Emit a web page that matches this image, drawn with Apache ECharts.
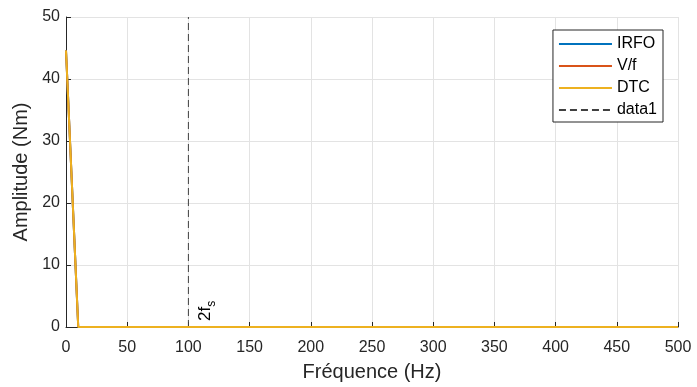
<!DOCTYPE html>
<html>
<head>
<meta charset="utf-8">
<script src="https://cdn.jsdelivr.net/npm/echarts@6/dist/echarts.min.js"></script>
<style>
  html, body { margin: 0; padding: 0; background: #fff; }
  #chart { width: 697px; height: 387px; }
</style>
</head>
<body>
<div id="chart"></div>
<script>
// Torque spectrum: amplitude vs frequency for three control strategies
const freqHz = [0, 10, 20, 50, 100, 150, 200, 250, 300, 350, 400, 450, 500];
const irfo   = [44.6, 0, 0, 0, 0, 0, 0, 0, 0, 0, 0, 0, 0];
const vf     = [44.6, 0, 0, 0, 0, 0, 0, 0, 0, 0, 0, 0, 0];
const dtc    = [44.6, 0, 0, 0, 0, 0, 0, 0, 0, 0, 0, 0, 0];
// vertical marker at twice the supply frequency
const markerFreq = 100;
const markerSpan = [0, 50];
const markerText = '2f';
const markerSub = 's';

const pairs = (xs, ys) => xs.map((x, i) => [x, ys[i]]);
const font = '"Liberation Sans", Arial, Helvetica, sans-serif';
const ink = '#262626';

const chart = echarts.init(document.getElementById('chart'), null, { renderer: 'canvas' });

const lineSeries = (name, data, color, z) => ({
  name, type: 'line', data, showSymbol: false, symbol: 'none',
  lineStyle: { color, width: 2 }, itemStyle: { color }, z, animation: false
});

chart.setOption({
  animation: false,
  textStyle: { fontFamily: font },
  grid: { left: 66, right: 19, top: 17, bottom: 59, containLabel: false },
  xAxis: {
    type: 'value', min: 0, max: 500, interval: 50,
    name: 'Fréquence (Hz)', nameLocation: 'middle', nameGap: 35,
    nameTextStyle: { fontSize: 20, color: ink, fontFamily: font },
    axisLine: { show: true, lineStyle: { color: ink, width: 1 } },
    axisTick: { show: true, inside: true, length: 5, lineStyle: { color: ink } },
    axisLabel: { fontSize: 16, color: ink, margin: 13, fontFamily: font },
    splitLine: { show: true, lineStyle: { color: '#e3e3e3', width: 1 } }
  },
  yAxis: {
    type: 'value', min: 0, max: 50, interval: 10,
    name: 'Amplitude (Nm)', nameLocation: 'middle', nameGap: 25,
    nameTextStyle: { fontSize: 20, color: ink, fontFamily: font },
    axisLine: { show: true, lineStyle: { color: ink, width: 1 } },
    axisTick: { show: true, inside: true, length: 5, lineStyle: { color: ink } },
    axisLabel: { fontSize: 16, color: ink, margin: 6, fontFamily: font },
    splitLine: { show: true, lineStyle: { color: '#e3e3e3', width: 1 } }
  },
  legend: {
    orient: 'vertical', right: 34, top: 30,
    backgroundColor: '#fff', borderColor: ink, borderWidth: 1, borderRadius: 0,
    padding: [6, 6, 4, 5], itemGap: 6, itemWidth: 53, itemHeight: 2,
    textStyle: { fontSize: 16, color: '#000', fontFamily: font, lineHeight: 16 },
    data: ['IRFO', 'V/f', 'DTC', 'data1']
  },
  series: [
    lineSeries('IRFO', pairs(freqHz, irfo), '#0072BD', 2),
    lineSeries('V/f', pairs(freqHz, vf), '#D95319', 3),
    lineSeries('DTC', pairs(freqHz, dtc), '#EDB120', 4),
    {
      name: 'data1', type: 'line', symbol: 'none', showSymbol: false,
      data: markerSpan.map(v => [markerFreq, v]),
      lineStyle: { color: '#404040', width: 1, type: [7, 4] },
      itemStyle: { color: '#404040' }, z: 1
    }
  ]
});

// rotated "2f_s" annotation beside the marker line
const p = chart.convertToPixel({ gridIndex: 0 }, [markerFreq, 0]);
chart.setOption({
  graphic: [{
    type: 'text', x: p[0] + 8, y: p[1] - 6, rotation: Math.PI / 2,
    style: {
      text: '{m|' + markerText + '}{s|' + markerSub + '}',
      fontFamily: font, fill: '#000',
      align: 'left', verticalAlign: 'top',
      rich: {
        m: { fontSize: 17, fontFamily: font, fill: '#000', verticalAlign: 'bottom' },
        s: { fontSize: 12, fontFamily: font, fill: '#000', verticalAlign: 'bottom', padding: [0, 0, -4, 0] }
      }
    }
  }]
});
</script>
</body>
</html>
